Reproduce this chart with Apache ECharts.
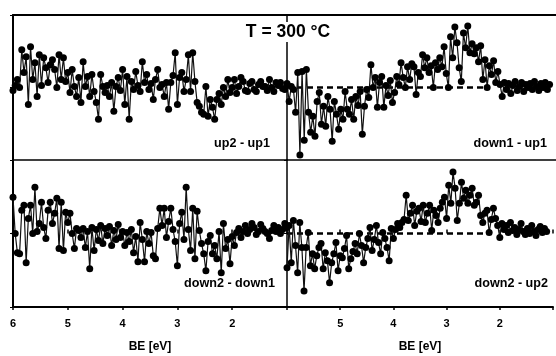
<!DOCTYPE html>
<html><head><meta charset="utf-8">
<script src="https://cdn.jsdelivr.net/npm/echarts@6/dist/echarts.min.js"></script>
<style>html,body{margin:0;padding:0;background:#fff}#c{width:556px;height:356px}</style>
</head><body><div id="c"></div>
<script>
// Binding energy grid (eV)
const energies = [
6.00,5.96,5.92,5.88,5.84,5.80,5.76,5.72,5.68,5.64,
5.60,5.56,5.52,5.48,5.44,5.40,5.36,5.32,5.28,5.24,
5.20,5.16,5.12,5.08,5.04,5.00,4.96,4.92,4.88,4.84,
4.80,4.76,4.72,4.68,4.64,4.60,4.56,4.52,4.48,4.44,
4.40,4.36,4.32,4.28,4.24,4.20,4.16,4.12,4.08,4.04,
4.00,3.96,3.92,3.88,3.84,3.80,3.76,3.72,3.68,3.64,
3.60,3.56,3.52,3.48,3.44,3.40,3.36,3.32,3.28,3.24,
3.20,3.16,3.12,3.08,3.04,3.00,2.96,2.92,2.88,2.84,
2.80,2.76,2.72,2.68,2.64,2.60,2.56,2.52,2.48,2.44,
2.40,2.36,2.32,2.28,2.24,2.20,2.16,2.12,2.08,2.04,
2.00,1.96,1.92,1.88,1.84,1.80,1.76,1.72,1.68,1.64,
1.60,1.56,1.52,1.48,1.44,1.40,1.36,1.32,1.28,1.24,
1.20,1.16,1.12,1.08,1.04,1.00];

const up2MinusUp1 = [
-3,2,8,0,38,15,31,-17,41,8,
25,-9,33,2,30,20,5,23,28,18,
0,33,8,30,6,15,-5,18,1,-9,
10,-15,26,1,11,-9,13,-4,-15,-32,
13,1,-5,2,-9,5,-24,1,10,-3,
18,-17,11,-32,6,-2,16,2,-4,26,
5,13,-2,4,-12,8,18,0,3,-9,
5,-22,5,12,35,-17,10,15,-4,8,
33,-4,35,6,-15,-19,-25,-27,1,-29,
-12,-20,-32,-12,-6,-17,0,-9,8,-5,
0,8,-6,1,10,6,-3,-4,4,6,
-2,-4,3,6,1,1,-3,8,0,-4,
5,2,5,-1,-2,3];

const down2MinusDown1 = [
36,0,-19,-20,23,28,-29,15,28,0,
46,2,10,31,6,-5,23,31,10,20,
35,-15,31,-17,21,11,20,0,-15,5,
3,-4,5,-14,2,-35,6,-17,4,-7,
8,-10,5,-2,7,-12,3,-6,9,-4,
2,-12,1,-8,4,-19,-3,-28,11,-6,
-28,2,-10,1,-22,-25,5,25,8,25,
-4,12,25,4,-8,-32,10,21,-6,46,
4,-17,25,-25,22,3,-10,-20,-37,-8,
-2,-20,-12,-25,2,-39,10,-15,-6,-30,
-3,-12,1,5,-4,2,8,0,4,10,
6,-1,2,9,5,2,0,-5,3,8,
2,6,0,4,10,6];

const down1MinusUp1 = [
4,-14,1,-2,-25,15,-68,16,-53,18,
-25,-45,-29,-49,-14,-5,-37,-19,-39,-9,
-22,-54,-14,-27,-42,-22,-32,-4,-22,-27,
-12,-32,-9,-18,-4,-47,-19,-2,-10,23,
0,10,-20,5,11,-20,2,-8,7,-15,
-5,11,3,25,10,0,21,8,24,21,
-7,15,11,33,20,30,15,22,0,25,
18,30,21,41,14,0,51,30,61,45,
20,6,55,40,62,35,44,34,40,26,
42,8,28,0,22,13,27,5,16,3,
-9,5,-2,4,-6,2,6,-3,1,5,
-4,3,0,4,-2,6,1,-3,4,0,
5,-2,3];

const down2MinusUp2 = [
-34,8,-29,13,-12,-39,11,-14,-57,-14,
1,-32,-20,-35,-22,-14,-10,-35,-19,-27,
-49,-29,-20,-9,-37,-22,-24,-15,-2,-35,
-25,-18,-10,-20,0,-12,-29,-14,-5,6,
-17,-6,8,-9,-20,1,-5,-14,-27,5,
-5,4,10,6,11,14,38,13,20,28,
8,22,25,12,28,11,20,28,3,23,
18,11,25,31,36,15,48,30,61,45,
13,30,51,35,43,30,38,45,28,31,
38,18,11,20,23,1,14,25,15,8,
-4,10,4,8,1,11,3,6,-1,4,
10,2,-1,5,0,8,2,-2,4,7,
1,5,2];

const zeroLineTop = [[6,0],[2.3,0]];
const zeroLineBottom = [[6,0],[2.15,0]];
const leftTickLabels = ['6','5','4','3','2'];
const rightTickLabels = ['5','4','3','2'];
const panelLabels = ['up2 - up1','down1 - up1','down2 - down1','down2 - up2'];
const tempLabel = 'T = 300 °C';
const axisTitle = 'BE [eV]';

const FONT = 'Liberation Sans, Arial, Helvetica, sans-serif';
function pairs(vals){ return vals.map((v,i)=>[energies[i], v]); }

const grids = [
  {left:13, top:15, width:274, height:145},
  {left:287, top:15, width:274, height:145},
  {left:13, top:160, width:274, height:147},
  {left:287, top:160, width:274, height:147}
];

function baseX(gi, extra){
  return Object.assign({
    type:'value', gridIndex:gi, min:1, max:6, interval:1, inverse:true, position:'bottom',
    splitLine:{show:false}, axisLabel:{show:false}, axisTick:{show:false},
    axisLine:{show:true, onZero:false, lineStyle:{color:'#000', width:1.5}}
  }, extra||{});
}
function bottomX(gi, labels){
  return baseX(gi,{
    axisLine:{show:true,onZero:false,lineStyle:{color:'#000',width:2}},
    axisTick:{show:true,length:3,lineStyle:{color:'#000',width:1.5}},
    axisLabel:{show:true, margin:11, color:'#000', fontFamily:FONT, fontWeight:'bold', fontSize:11,
      formatter:function(v){ return labels.indexOf(String(v))>=0?String(v):''; }},
    name:axisTitle, nameLocation:'middle', nameGap:34,
    nameTextStyle:{color:'#000', fontFamily:FONT, fontWeight:'bold', fontSize:12}
  });
}

const xAxis = [
  baseX(0), baseX(1), bottomX(2, leftTickLabels), bottomX(3, rightTickLabels),
  baseX(0,{position:'top', axisLine:{show:true,onZero:false,lineStyle:{color:'#000',width:2}}}),
  baseX(1,{position:'top', axisLine:{show:true,onZero:false,lineStyle:{color:'#000',width:2}}}),
  baseX(2,{axisLine:{show:false}, axisTick:{show:true,inside:true,length:4,lineStyle:{color:'#000',width:1.5}}}),
  baseX(3,{axisLine:{show:false}, axisTick:{show:true,inside:true,length:4,lineStyle:{color:'#000',width:1.5}}})
];

function baseY(gi, w){
  return {type:'value', gridIndex:gi, min:-73, max:73, interval:73, position:'left',
    splitLine:{show:false}, axisLabel:{show:false},
    axisTick:{show:true, length:3, lineStyle:{color:'#000', width:1}},
    axisLine:{show:true, onZero:false, lineStyle:{color:'#000', width:w}}};
}
const yAxis = [baseY(0,2), baseY(1,1.5), baseY(2,2), baseY(3,1.5)];

function dataSeries(gi, vals){
  return {type:'line', xAxisIndex:gi, yAxisIndex:gi, data:pairs(vals),
    symbol:'circle', symbolSize:7, showAllSymbol:true, z:3,
    itemStyle:{color:'#000'}, lineStyle:{color:'#111', width:1.2}, silent:true};
}
function dashSeries(gi, d){
  return {type:'line', xAxisIndex:gi, yAxisIndex:gi, data:d, symbol:'none', z:2,
    lineStyle:{color:'#000', width:2.5, type:[6,4]}, silent:true};
}

const series = [
  dashSeries(1, zeroLineTop), dashSeries(3, zeroLineBottom),
  dataSeries(0, up2MinusUp1), dataSeries(1, down1MinusUp1),
  dataSeries(2, down2MinusDown1), dataSeries(3, down2MinusUp2)
];

function label(text, x, y, size, align, bg){
  const st = {text:text, fill:'#000', font:'bold '+size+'px '+FONT,
    textAlign:align, textVerticalAlign:'middle'};
  if (bg) { st.backgroundColor = '#fff'; st.padding = [1,3]; }
  return {type:'text', x:x, y:y, z:10, style:st};
}

const chart = echarts.init(document.getElementById('c'), null, {renderer:'canvas'});
chart.setOption({
  animation:false, backgroundColor:'#fff',
  grid:grids, xAxis:xAxis, yAxis:yAxis, series:series,
  graphic:[
    label(tempLabel, 288, 32, 17.5, 'center', true),
    label(panelLabels[0], 270, 144, 12.6, 'right'),
    label(panelLabels[1], 547, 144, 12.6, 'right'),
    label(panelLabels[2], 275, 284, 12.6, 'right'),
    label(panelLabels[3], 548, 284, 12.6, 'right')
  ]
});
</script></body></html>
